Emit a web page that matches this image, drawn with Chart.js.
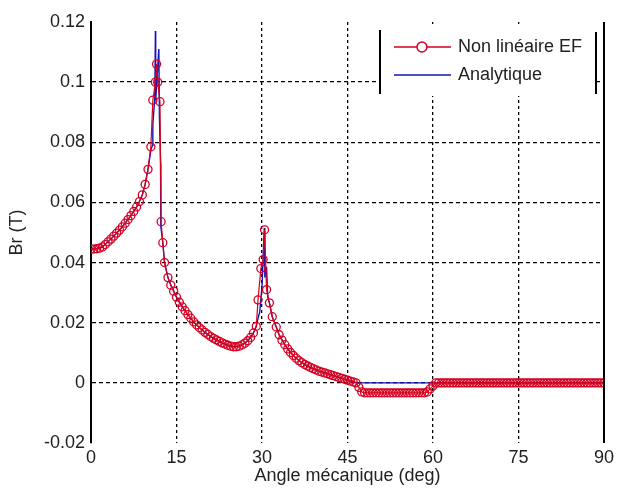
<!DOCTYPE html>
<html>
<head>
<meta charset="utf-8">
<title>Br</title>
<script src="https://cdn.jsdelivr.net/npm/chart.js@4.4.1/dist/chart.umd.min.js"></script>
<style>
  body { margin: 0; background: #fff; }
  #wrap { width: 618px; height: 496px; }
</style>
</head>
<body>
<div id="wrap"><canvas id="myChart" width="618" height="496"></canvas></div>
<script>
// non linear FE solution (deg / T)
var angleEF = [
    0, 0.5, 1, 1.5, 2, 2.5, 3, 3.5, 4, 4.5, 5, 5.5, 6, 6.5, 7, 7.5, 8, 8.5, 9, 9.5,
    10, 10.5, 10.85, 11.3, 11.5, 11.7, 12.1, 12.3, 12.6, 12.9, 13.5, 14, 14.5,
    15, 15.5, 16, 16.5, 17, 17.5, 18, 18.5, 19, 19.5, 20, 20.5, 21, 21.5, 22, 22.5,
    23, 23.5, 24, 24.5, 25, 25.5, 26, 26.5, 27, 27.5, 28, 28.5, 29, 29.3, 29.8,
    30.2, 30.45, 30.8, 31.3, 31.8, 32.5, 33, 33.5, 34, 34.5, 35, 35.5, 36, 36.5,
    37, 37.5, 38, 38.5, 39, 39.5, 40, 40.5, 41, 41.5, 42, 42.5, 43, 43.5, 44, 44.5,
    45, 45.5, 46, 46.5, 47, 47.5, 48, 48.5, 49, 49.5, 50, 50.5, 51, 51.5, 52, 52.5,
    53, 53.5, 54, 54.5, 55, 55.5, 56, 56.5, 57, 57.5, 58, 58.5, 59, 59.5, 60, 60.5,
    61, 61.5, 62, 62.5, 63, 63.5, 64, 64.5, 65, 65.5, 66, 66.5, 67, 67.5, 68, 68.5,
    69, 69.5, 70, 70.5, 71, 71.5, 72, 72.5, 73, 73.5, 74, 74.5, 75, 75.5, 76, 76.5,
    77, 77.5, 78, 78.5, 79, 79.5, 80, 80.5, 81, 81.5, 82, 82.5, 83, 83.5, 84, 84.5,
    85, 85.5, 86, 86.5, 87, 87.5, 88, 88.5, 89, 89.5, 90
];
var brEF = [
    0.0445, 0.0445, 0.0446, 0.0448, 0.0452, 0.0460, 0.0469, 0.0478, 0.0488, 0.0498,
    0.0508, 0.0519, 0.0531, 0.0543, 0.0556, 0.0570, 0.0585, 0.0603, 0.0625, 0.0660,
    0.0710, 0.0785, 0.0940, 0.1000, 0.1060, 0.1000, 0.0935, 0.0536, 0.0466, 0.0400,
    0.0350, 0.0325, 0.0305,
    0.0285, 0.0268, 0.0253, 0.0240, 0.0227, 0.0215, 0.0203, 0.0193, 0.0184, 0.0176,
    0.0168, 0.0161, 0.0154, 0.0148, 0.0143, 0.0138,
    0.0133, 0.0129, 0.0125, 0.0122, 0.0120, 0.0120, 0.0122, 0.0126, 0.0132, 0.0140,
    0.0151, 0.0166, 0.0188, 0.0276, 0.0380,
    0.0410, 0.0509, 0.0310, 0.0266, 0.0220, 0.0186, 0.0160, 0.0142, 0.0127, 0.0113,
    0.0101, 0.0091, 0.0082, 0.0074,
    0.0067, 0.0061, 0.0056, 0.0051, 0.0047, 0.0043, 0.0039, 0.0036, 0.0033, 0.0030,
    0.0027, 0.0024, 0.0021, 0.0018, 0.0015, 0.0012,
    0.0009, 0.0006, 0.0003, 0.0000, -0.0015, -0.0030, -0.0033, -0.0033, -0.0033, -0.0033,
    -0.0033, -0.0033, -0.0033, -0.0033, -0.0033, -0.0033,
    -0.0033, -0.0033, -0.0033, -0.0033, -0.0033, -0.0033, -0.0033, -0.0033, -0.0033, -0.0033,
    -0.0033, -0.0033, -0.0030, -0.0020, -0.0010, 0.0000,
    0, 0, 0, 0, 0, 0, 0, 0, 0, 0, 0, 0, 0, 0, 0, 0,
    0, 0, 0, 0, 0, 0, 0, 0, 0, 0, 0, 0, 0, 0, 0, 0,
    0, 0, 0, 0, 0, 0, 0, 0, 0, 0, 0, 0, 0, 0, 0, 0,
    0, 0, 0, 0, 0, 0, 0, 0, 0, 0, 0
];

// analytical model
var angleAn = [
    0, 1, 2, 3, 4, 5, 6, 7, 8, 8.5, 9, 9.5, 10, 10.5, 10.8, 10.85, 11.2, 11.3, 11.35,
    11.9, 12.0, 12.2, 12.25, 12.6, 12.9, 13.5, 14, 15, 16, 17, 18, 19, 20, 21, 22,
    23, 24, 25, 26, 27, 28, 28.5, 29, 29.3, 29.6, 30.0, 30.4, 30.5, 30.8, 31.0, 31.3,
    31.8, 32.5, 33, 34, 35, 36, 37, 38, 39, 40, 41, 42, 43, 44, 45, 46, 47, 60, 75, 90
];
var brAn = [
    0.0445, 0.0446, 0.0452, 0.0469, 0.0488, 0.0508, 0.0531, 0.0556, 0.0585, 0.0603,
    0.0625, 0.0660, 0.0710, 0.0775, 0.0790, 0.0860, 0.0950, 0.1170, 0.0940,
    0.1110, 0.0890, 0.0730, 0.0520, 0.0466, 0.0400, 0.0350, 0.0325, 0.0285, 0.0253,
    0.0227, 0.0203, 0.0184, 0.0168, 0.0154, 0.0143,
    0.0133, 0.0125, 0.0120, 0.0122, 0.0132, 0.0151, 0.0166, 0.0188, 0.0215, 0.0235,
    0.0320, 0.0515, 0.0350, 0.0386, 0.0286, 0.0266,
    0.0220, 0.0186, 0.0160, 0.0127, 0.0101, 0.0082, 0.0067, 0.0056, 0.0047, 0.0039,
    0.0033, 0.0027, 0.0021, 0.0015, 0.0009, 0.0003, 0, 0, 0, 0
];

var xTicks = [0, 15, 30, 45, 60, 75, 90];
var yTicks = [-0.02, 0, 0.02, 0.04, 0.06, 0.08, 0.1, 0.12];

function toPoints(xs, ys) {
    var pts = [];
    for (var i = 0; i < xs.length; i++) {
        pts.push({ x: xs[i], y: ys[i] });
    }
    return pts;
}

var FONT = 'Liberation Sans, Arial, Helvetica, sans-serif';

// hide the grid line on the outer ticks (box edges)
function gridColor(ctx) {
    var n = ctx.scale.ticks.length;
    if (ctx.index === 0 || ctx.index === n - 1) return 'rgba(0,0,0,0)';
    return '#000';
}

// right axis line + boxed legend, matlab style
var frameAndLegend = {
    id: 'frameAndLegend',
    afterDraw: function (chart) {
        var ctx = chart.ctx;
        var a = chart.chartArea;
        ctx.save();
        ctx.strokeStyle = '#000';
        ctx.lineWidth = 2;
        ctx.beginPath();
        ctx.moveTo(a.right, a.top);
        ctx.lineTo(a.right, a.bottom);
        ctx.stroke();

        var bx = a.right - 224, by = a.top + 2, bw = 216, bh = 72;
        ctx.fillStyle = '#fff';
        ctx.fillRect(bx, by, bw, bh);
        ctx.lineWidth = 2;
        ctx.beginPath();
        ctx.moveTo(bx, by + 6);
        ctx.lineTo(bx, by + bh - 2);
        ctx.moveTo(bx + bw, by + 8);
        ctx.lineTo(bx + bw, by + bh - 2);
        ctx.stroke();

        ctx.font = '18px ' + FONT;
        ctx.textBaseline = 'middle';
        var ds = chart.data.datasets;
        for (var i = 0; i < ds.length; i++) {
            var y = by + 23 + i * 28;
            ctx.strokeStyle = ds[i].borderColor;
            ctx.lineWidth = 1.5;
            ctx.beginPath();
            ctx.moveTo(bx + 14, y);
            ctx.lineTo(bx + 71, y);
            ctx.stroke();
            if (ds[i].pointRadius > 0) {
                ctx.fillStyle = '#fff';
                ctx.beginPath();
                ctx.arc(bx + 42, y, 5, 0, Math.PI * 2);
                ctx.fill();
                ctx.stroke();
            }
            ctx.fillStyle = '#222';
            ctx.fillText(ds[i].label, bx + 78, y);
        }
        ctx.restore();
    }
};

var ctx = document.getElementById('myChart').getContext('2d');
var myChart = new Chart(ctx, {
    type: 'line',
    data: {
        datasets: [{
            label: 'Non linéaire EF',
            data: toPoints(angleEF, brEF),
            borderColor: '#d40020',
            borderWidth: 1.2,
            pointRadius: 4,
            pointBorderWidth: 1.3,
            pointBorderColor: '#d40020',
            pointBackgroundColor: 'rgba(255,255,255,0)',
            order: 1
        }, {
            label: 'Analytique',
            data: toPoints(angleAn, brAn),
            borderColor: '#1414b4',
            borderWidth: 1.4,
            pointRadius: 0,
            order: 2
        }]
    },
    options: {
        responsive: false,
        animation: false,
        devicePixelRatio: 1,
        layout: { padding: { top: 22, right: 13, left: 0, bottom: 0 } },
        plugins: {
            legend: { display: false },
            tooltip: { enabled: false }
        },
        scales: {
            x: {
                type: 'linear',
                min: 0,
                max: 90,
                afterBuildTicks: function (axis) {
                    axis.ticks = xTicks.map(function (v) { return { value: v }; });
                },
                afterFit: function (axis) { axis.height = 53; },
                ticks: {
                    color: '#222',
                    padding: 4,
                    maxRotation: 0,
                    font: { family: FONT, size: 18 }
                },
                grid: { color: gridColor, lineWidth: 1.3, drawTicks: false },
                border: { display: false, dash: [3, 3] },
                title: {
                    display: true,
                    text: 'Angle mécanique (deg)',
                    color: '#222',
                    font: { family: FONT, size: 18 },
                    padding: { top: 0, bottom: 9 }
                }
            },
            y: {
                min: -0.02,
                max: 0.12,
                afterBuildTicks: function (axis) {
                    axis.ticks = yTicks.map(function (v) { return { value: v }; });
                },
                afterFit: function (axis) { axis.width = 91; },
                ticks: {
                    color: '#222',
                    padding: 6,
                    font: { family: FONT, size: 18 },
                    callback: function (v) { return String(+v.toFixed(2)); }
                },
                grid: { color: gridColor, lineWidth: 1.3, drawTicks: false },
                border: { display: true, color: '#000', width: 2, dash: [4, 3] },
                title: {
                    display: true,
                    text: 'Br (T)',
                    color: '#222',
                    font: { family: FONT, size: 18 },
                    padding: { top: 6, bottom: 0 }
                }
            }
        }
    },
    plugins: [frameAndLegend]
});
</script>
</body>
</html>
